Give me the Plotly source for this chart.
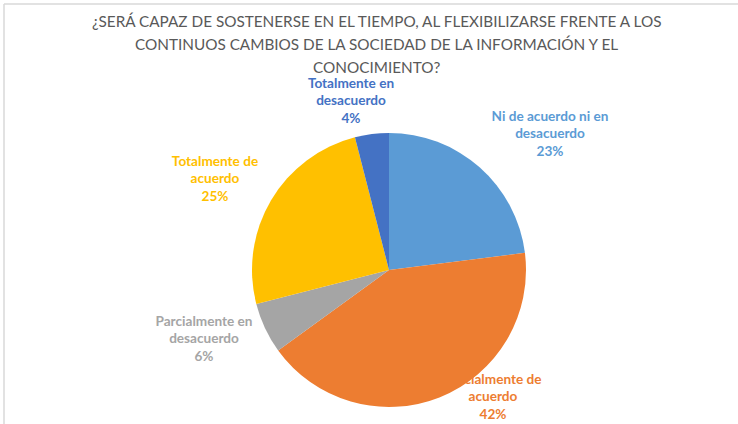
import textwrap
import plotly.graph_objects as go

# ---- data ----
categories = [
    "Ni de acuerdo ni en desacuerdo",
    "Parcialmente de acuerdo",
    "Parcialmente en desacuerdo",
    "Totalmente de acuerdo",
    "Totalmente en desacuerdo",
]
values = [23, 42, 6, 25, 4]
colors = ["#5B9BD5", "#ED7D31", "#A5A5A5", "#FFC000", "#4472C4"]
title_lines = [
    "¿SERÁ CAPAZ DE SOSTENERSE EN EL TIEMPO, AL FLEXIBILIZARSE FRENTE A LOS",
    "CONTINUOS CAMBIOS DE LA SOCIEDAD DE LA INFORMACIÓN Y EL",
    "CONOCIMIENTO?",
]

# label anchor positions (pixels in the 738x424 canvas)
label_x = [550, 493, 204, 215, 351]
label_y = [135, 398, 340, 180, 102]
title_y = [21, 44, 67]

W, H = 738, 424
FONT = "Lato"

total = sum(values)
label_text = [
    "<br>".join(textwrap.wrap(c, 19)) + f"<br>{round(v / total * 100)}%"
    for c, v in zip(categories, values)
]

fig = go.Figure()

# labels drawn in a hidden cartesian layer (below the pie layer)
fig.add_trace(go.Scatter(
    x=label_x, y=label_y, mode="text", text=label_text,
    textposition="middle center",
    textfont=dict(family=FONT, size=13.6, color=colors, weight="bold"),
    hoverinfo="skip", showlegend=False,
))

cx, cy, r = 389, 270, 137
fig.add_trace(go.Pie(
    labels=categories, values=values, sort=False, direction="clockwise",
    rotation=0, marker=dict(colors=colors, line=dict(width=0)),
    textinfo="none", showlegend=False, hole=0,
    domain=dict(x=[(cx - r) / W, (cx + r) / W], y=[1 - (cy + r) / H, 1 - (cy - r) / H]),
))

for line, ty in zip(title_lines, title_y):
    fig.add_annotation(
        x=376.5 / W, y=1 - ty / H, xref="paper", yref="paper",
        xanchor="center", yanchor="middle", showarrow=False,
        text=line,
        font=dict(family=FONT, size=15.3, color="#595959"),
    )

# chart-area border (top and left edges visible)
fig.add_shape(type="line", xref="paper", yref="paper",
              x0=4 / W, x1=1.0, y0=1 - 4 / H, y1=1 - 4 / H,
              line=dict(color="#D9D9D9", width=1.5))
fig.add_shape(type="line", xref="paper", yref="paper",
              x0=4 / W, x1=4 / W, y0=0, y1=1 - 4 / H,
              line=dict(color="#D9D9D9", width=1.5))

fig.update_layout(
    width=W, height=H, margin=dict(l=0, r=0, t=0, b=0),
    paper_bgcolor="white", plot_bgcolor="rgba(0,0,0,0)",
    xaxis=dict(range=[0, W], visible=False, fixedrange=True),
    yaxis=dict(range=[H, 0], visible=False, fixedrange=True),
    showlegend=False,
)

fig.write_html("out.html")
